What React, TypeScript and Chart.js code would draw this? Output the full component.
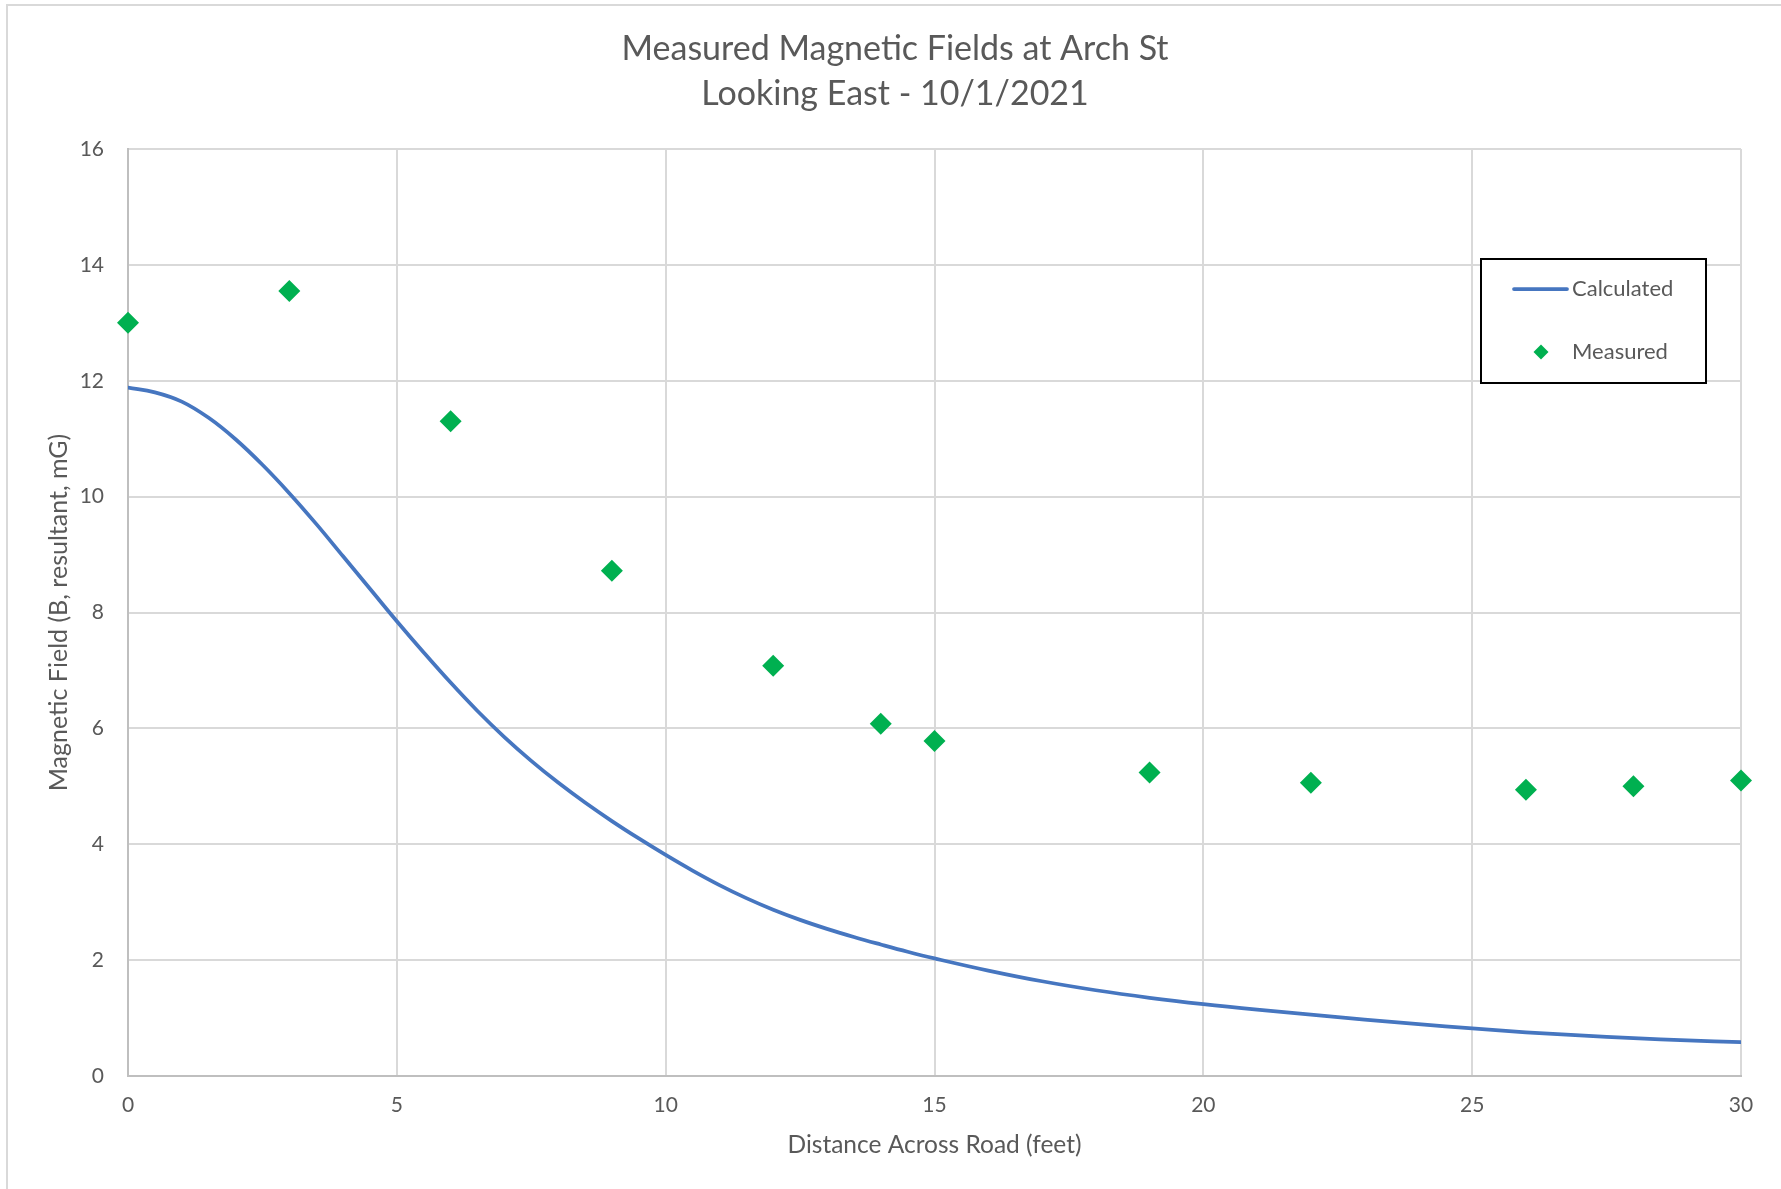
import React, { useEffect, useRef } from "react";
import { Chart, registerables } from "chart.js";

Chart.register(...registerables);

// Calculated field profile (distance in feet, field in mG)
const calcX = [0, 0.5, 1, 1.5, 2, 2.5, 3, 3.5, 4, 4.5, 5, 5.5, 6, 6.5, 7, 7.5, 8, 8.5, 9, 9.5, 10, 10.5, 11, 11.5, 12, 12.5, 13, 13.5, 14, 14.5, 15, 16, 17, 18, 19, 20, 21, 22, 23, 24, 25, 26, 27, 28, 29, 30];
const calcY = [11.88, 11.8, 11.64, 11.36, 10.99, 10.55, 10.06, 9.53, 8.97, 8.41, 7.85, 7.31, 6.79, 6.3, 5.85, 5.44, 5.065, 4.72, 4.4, 4.1, 3.815, 3.545, 3.295, 3.07, 2.87, 2.695, 2.54, 2.4, 2.27, 2.145, 2.03, 1.82, 1.635, 1.48, 1.35, 1.24, 1.145, 1.06, 0.975, 0.895, 0.82, 0.755, 0.7, 0.655, 0.615, 0.585];

// Field readings taken on site
const measX = [0, 3, 6, 9, 12, 14, 15, 19, 22, 26, 28, 30];
const measY = [13.0, 13.55, 11.3, 8.72, 7.08, 6.08, 5.78, 5.24, 5.06, 4.94, 5.0, 5.1];

const seriesNames = ["Calculated", "Measured"];
const titleLines = ["Measured Magnetic Fields at Arch St", "Looking East - 10/1/2021"];
const xTitle = "Distance Across Road (feet)";
const yTitle = "Magnetic Field (B, resultant, mG)";

const FONT = "Lato, 'Open Sans', sans-serif";
const TEXT = "#595959";
const LINE_BLUE = "#4676C0";
const GREEN = "#00B050";

// Two-line heading, centred on the chart frame
const heading = {
  id: "heading",
  afterDraw(chart: any) {
    const { ctx } = chart;
    ctx.save();
    ctx.fillStyle = TEXT;
    ctx.font = `34px ${FONT}`;
    ctx.textAlign = "center";
    ctx.textBaseline = "middle";
    ctx.fillText(titleLines[0], 895, 49);
    ctx.fillText(titleLines[1], 895, 94);
    ctx.restore();
  },
};

const legendBox = {
  id: "legendBox",
  afterDraw(chart: any) {
    const { ctx, chartArea } = chart;
    const x0 = chartArea.right - 260;
    const y0 = chartArea.top + 110;
    const w = 225;
    const h = 124;
    ctx.save();
    ctx.fillStyle = "#ffffff";
    ctx.fillRect(x0, y0, w, h);
    ctx.strokeStyle = "#000000";
    ctx.lineWidth = 2;
    ctx.strokeRect(x0, y0, w, h);

    const row1 = y0 + 30;
    const row2 = y0 + 93;
    ctx.strokeStyle = LINE_BLUE;
    ctx.lineWidth = 3.75;
    ctx.lineCap = "round";
    ctx.beginPath();
    ctx.moveTo(x0 + 33, row1);
    ctx.lineTo(x0 + 86, row1);
    ctx.stroke();

    ctx.fillStyle = GREEN;
    const cx = x0 + 60;
    const r = 7.5;
    ctx.beginPath();
    ctx.moveTo(cx, row2 - r);
    ctx.lineTo(cx + r, row2);
    ctx.lineTo(cx, row2 + r);
    ctx.lineTo(cx - r, row2);
    ctx.closePath();
    ctx.fill();

    ctx.fillStyle = TEXT;
    ctx.font = `22px ${FONT}`;
    ctx.textBaseline = "middle";
    ctx.textAlign = "left";
    ctx.fillText(seriesNames[0], x0 + 91, row1);
    ctx.fillText(seriesNames[1], x0 + 91, row2);
    ctx.restore();
  },
};

export default function App() {
  const canvasRef = useRef<HTMLCanvasElement | null>(null);

  useEffect(() => {
    const canvas = canvasRef.current;
    if (!canvas) return;
    const chart = new Chart(canvas, {
      type: "scatter",
      data: {
        datasets: [
          {
            label: seriesNames[0],
            type: "line",
            data: calcX.map((x, i) => ({ x, y: calcY[i] })),
            borderColor: LINE_BLUE,
            borderWidth: 3.75,
            pointRadius: 0,
            tension: 0.4,
            borderCapStyle: "round",
            fill: false,
            order: 2,
          },
          {
            label: seriesNames[1],
            data: measX.map((x, i) => ({ x, y: measY[i] })),
            pointStyle: "rectRot",
            pointRadius: 11,
            pointBackgroundColor: GREEN,
            pointBorderColor: GREEN,
            pointBorderWidth: 0,
            clip: false,
            order: 1,
          },
        ],
      },
      options: {
        responsive: false,
        animation: false,
        events: [],
        layout: { padding: { left: 0, right: 40, top: 149, bottom: 0 } },
        plugins: {
          legend: { display: false },
          tooltip: { enabled: false },
          title: { display: false },
        },
        scales: {
          x: {
            type: "linear",
            min: 0,
            max: 30,
            ticks: { stepSize: 5, color: TEXT, font: { family: FONT, size: 21 }, padding: 17 },
            grid: { color: "#d9d9d9", lineWidth: 2, drawTicks: false },
            border: { color: "#bfbfbf", width: 2 },
            title: {
              display: true,
              text: xTitle,
              color: TEXT,
              font: { family: FONT, size: 24.5 },
              padding: { top: 0, bottom: 29 },
            },
            afterFit(scale: any) {
              scale.height = 113;
            },
          },
          y: {
            type: "linear",
            min: 0,
            max: 16,
            ticks: { stepSize: 2, color: TEXT, font: { family: FONT, size: 21 }, padding: 24 },
            grid: { color: "#d9d9d9", lineWidth: 2, drawTicks: false },
            border: { color: "#bfbfbf", width: 2 },
            title: {
              display: true,
              text: yTitle,
              color: TEXT,
              font: { family: FONT, size: 25 },
              padding: { top: 44, bottom: 0 },
            },
            afterFit(scale: any) {
              scale.width = 128;
            },
          },
        },
      },
      plugins: [heading, legendBox],
    });
    return () => chart.destroy();
  }, []);

  return (
    <div style={{ position: "fixed", left: 0, top: 0, width: 1781, height: 1189, overflow: "hidden", background: "#ffffff" }}>
      <div
        style={{
          position: "absolute",
          left: 6,
          top: 4,
          width: 1800,
          height: 1200,
          borderLeft: "2px solid #d9d9d9",
          borderTop: "2px solid #d9d9d9",
        }}
      />
      <canvas ref={canvasRef} width={1781} height={1189} style={{ position: "absolute", left: 0, top: 0 }} />
    </div>
  );
}
